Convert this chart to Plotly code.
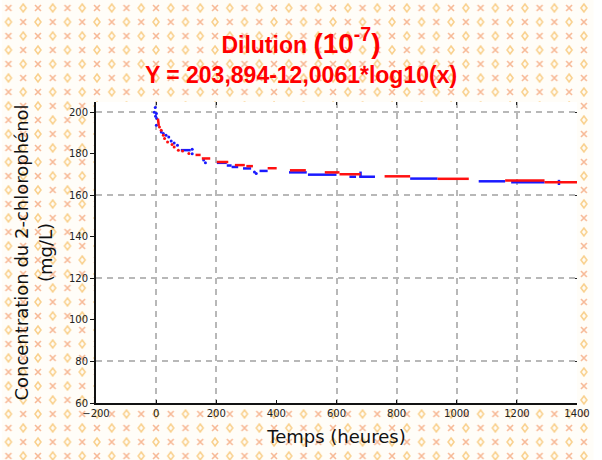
import base64
import plotly.graph_objects as go

# ---------------- data ----------------
# red series: line segments (x0, x1, y0, y1) and isolated points
red_x0 = [6, 131, 152, 202, 262, 300, 371, 445, 561, 610, 760, 936, 1161, 1292]
red_x1 = [9, 148, 180, 240, 295, 322, 401, 498, 610, 680, 845, 1040, 1292, 1400]
red_y0 = [197.0, 179.5, 177.8, 176.1, 174.6, 174.1, 173.1, 172.1, 171.1, 170.2, 169.2, 168.0, 167.2, 166.3]
red_y1 = [193.5, 179.5, 177.8, 176.1, 174.6, 174.1, 173.1, 172.1, 171.1, 170.2, 169.2, 168.0, 167.2, 166.3]
red_pts_x = [11, 17, 24, 28, 38, 53, 60, 74, 88, 109]
red_pts_y = [192.9, 191.4, 189.0, 187.4, 185.7, 184.5, 183.3, 181.8, 181.4, 180.2]

# blue series
blue_x0 = [82, 202, 235, 251, 289, 344, 442, 505, 643, 680, 676, 845, 1073, 1181, 1340]
blue_x1 = [115, 235, 251, 273, 316, 371, 501, 600, 665, 680, 728, 936, 1161, 1292, 1340]
blue_y0 = [181.8, 175.7, 174.4, 173.7, 173.0, 171.8, 171.1, 170.0, 169.0, 168.5, 169.0, 168.1, 166.8, 166.3, 165.0]
blue_y1 = [181.8, 175.7, 174.4, 173.7, 173.0, 171.8, 171.1, 170.0, 169.0, 171.5, 169.0, 168.1, 166.8, 166.3, 167.5]
blue_pts_x = [-3, -6, 1, -2, 2, 1, 17, 24, 33, 42, 50, 60, 71, 120, 120, 158, 164, 327, 333]
blue_pts_y = [202.3, 200.1, 199.4, 198.1, 197.0, 193.8, 190.5, 189.8, 189.0, 188.1, 186.2,
              185.3, 184.2, 182.2, 180.1, 177.0, 175.7, 171.3, 170.6]

# axes
x_ticks = [-200, 0, 200, 400, 600, 800, 1000, 1200, 1400]
x_grid = [0, 200, 600, 800, 1000, 1200]
y_ticks = [60, 80, 100, 120, 140, 160, 180, 200]
y_grid = [80, 120, 160, 200]

title_line1 = "Dilution"
title_line2 = "Y = 203,894-12,0061*log10(x)"
x_title = "Temps (heures)"
y_title = "Concentration du 2-chlorophénol<br>(mg/L)"


def segs(x0, x1, y0, y1):
    xs, ys = [], []
    for a, b, c, d in zip(x0, x1, y0, y1):
        xs += [a, b, None]
        ys += [c, d, None]
    return xs, ys


RED = "#ff1010"
BLUE = "#1a1aff"

fig = go.Figure()
bx, by = segs(blue_x0, blue_x1, blue_y0, blue_y1)
rx, ry = segs(red_x0, red_x1, red_y0, red_y1)
fig.add_trace(go.Scatter(x=bx, y=by, mode="lines", line=dict(color=BLUE, width=2.5),
                         showlegend=False, hoverinfo="skip"))
fig.add_trace(go.Scatter(x=blue_pts_x, y=blue_pts_y, mode="markers",
                         marker=dict(color=BLUE, size=3), showlegend=False))
fig.add_trace(go.Scatter(x=rx, y=ry, mode="lines", line=dict(color=RED, width=2.5),
                         showlegend=False, hoverinfo="skip"))
fig.add_trace(go.Scatter(x=red_pts_x, y=red_pts_y, mode="markers",
                         marker=dict(color=RED, size=3), showlegend=False))
# empty trace to anchor overlay (grid) axes
fig.add_trace(go.Scatter(x=[None], y=[None], xaxis="x2", yaxis="y2",
                         showlegend=False, hoverinfo="skip"))

# background pattern (decorative)
W, H = 602, 460
parts = [f'<svg xmlns="http://www.w3.org/2000/svg" width="{W}" height="{H}">',
         '<defs><pattern id="p" width="30" height="28" patternUnits="userSpaceOnUse">',
         '<g stroke="#f7b996" stroke-width="1.6" fill="none">'
         '<path d="M4 5 L10 11 M10 5 L4 11"/>'
         '<path d="M19 19 L25 25 M25 19 L19 25"/></g>',
         '<g stroke="#f9d08c" stroke-width="1.6" fill="none">'
         '<path d="M22 4 L25 8 L22 12 L19 8 Z"/>'
         '<path d="M7 18 L10 22 L7 26 L4 22 Z"/></g>',
         '</pattern></defs>',
         f'<rect width="{W}" height="{H}" fill="#fffdf8"/>',
         f'<rect width="{W}" height="{H}" fill="url(#p)"/></svg>']
svg = "".join(parts)
src = "data:image/svg+xml;base64," + base64.b64encode(svg.encode()).decode()

L, R, T, B = 96, 17, 102, 57
pw, ph = W - L - R, H - T - B

fig.add_layout_image(dict(source=src, xref="paper", yref="paper",
                          x=-L / pw, y=1 + T / ph, sizex=W / pw, sizey=H / ph,
                          xanchor="left", yanchor="top", sizing="stretch", layer="below"))
fig.add_shape(type="rect", xref="paper", yref="paper", x0=0, x1=1, y0=0, y1=1,
              fillcolor="white", line=dict(width=0), layer="below")

grid = dict(showgrid=True, gridcolor="#b8b8b8", gridwidth=1.5, griddash="6px,5px")

fig.update_layout(
    width=W, height=H,
    margin=dict(l=L, r=R, t=T, b=B),
    paper_bgcolor="white", plot_bgcolor="white",
    font=dict(family="Liberation Sans, Arial", color="#111"),
    title=dict(
        text=(f"<b>{title_line1} <span style='font-size:28px'>(10<sup>-7</sup>)</span></b>"
              f"<br><b>{title_line2}</b>"),
        x=0.5, xanchor="center", y=0.885, yanchor="top",
        font=dict(family="Liberation Sans, Arial", size=23, color="#ff0000")),
    xaxis=dict(range=[-200, 1400], tickvals=x_ticks, showgrid=False, zeroline=False,
               showline=True, linecolor="#111", linewidth=2, ticks="inside", ticklen=3,
               tickcolor="#111", tickfont=dict(size=10, family="DejaVu Sans", color="#222"),
               title=dict(text=x_title, font=dict(size=18, family="DejaVu Sans", color="#111"),
                          standoff=12)),
    yaxis=dict(range=[60, 205], tickvals=y_ticks, showgrid=False, zeroline=False,
               showline=True, linecolor="#111", linewidth=2, ticks="outside", ticklen=4,
               tickcolor="#111", tickfont=dict(size=10, family="DejaVu Sans", color="#222"),
               title=dict(text=y_title, font=dict(size=18, family="DejaVu Sans", color="#111"),
                          standoff=12)),
    xaxis2=dict(overlaying="x", side="top", range=[-200, 1400], tickvals=x_grid,
                showticklabels=False, zeroline=False, showline=False, ticks="inside",
                ticklen=3, tickcolor="#222", **grid),
    yaxis2=dict(overlaying="y", side="right", range=[60, 205], tickvals=y_grid,
                showticklabels=False, zeroline=False, showline=False, ticks="inside",
                ticklen=2, tickcolor="#222", **grid),
)

fig.write_html("out.html")
